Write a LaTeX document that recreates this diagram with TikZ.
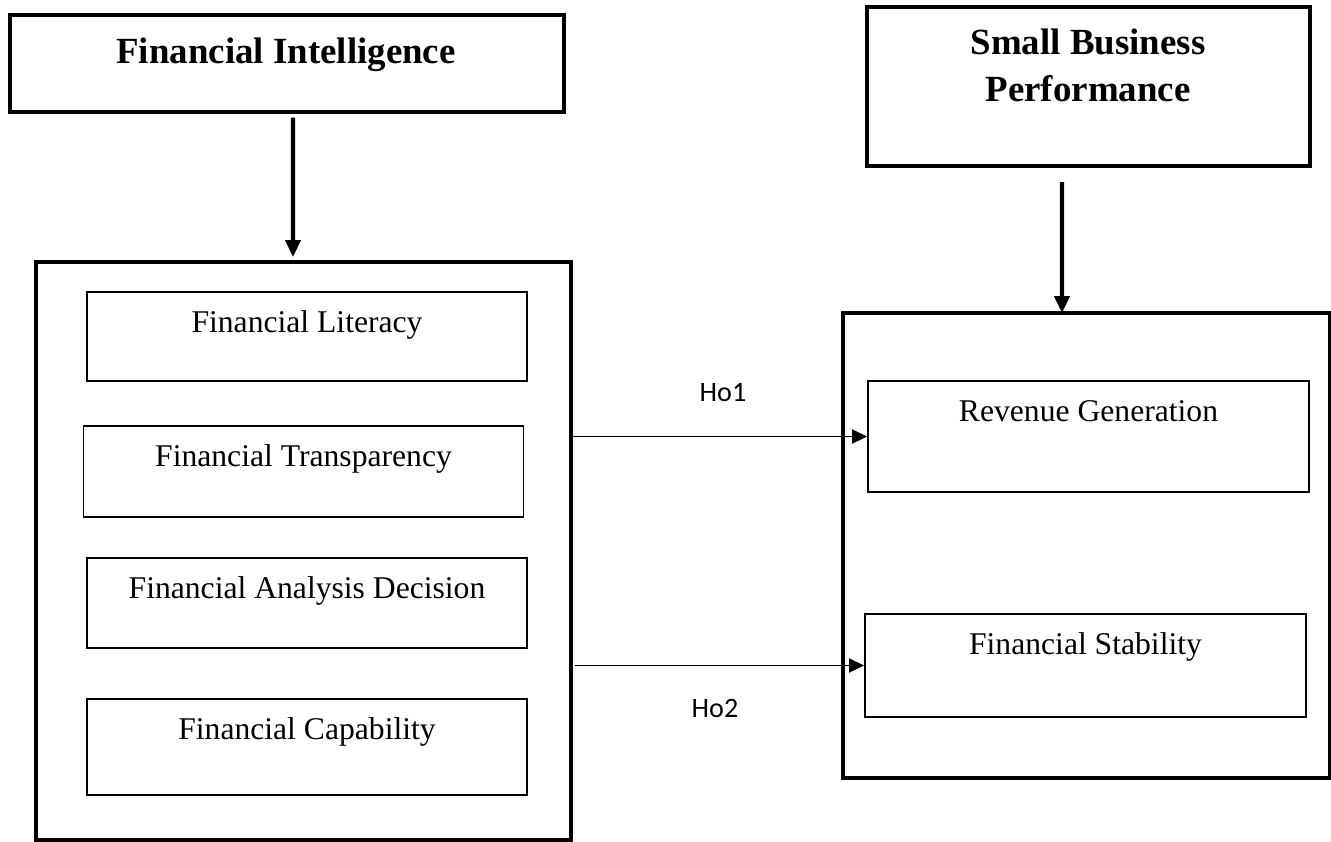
\documentclass[tikz,border=0pt]{standalone}
\usepackage{fontspec}
\setmainfont{Liberation Serif}
\newfontfamily\hofont{Carlito}
\usetikzlibrary{arrows.meta}

\begin{document}
\begin{tikzpicture}[
  titlebox/.style={draw, line width=1.9pt, inner sep=0pt},
  groupbox/.style={draw, line width=2.2pt, inner sep=0pt},
  itembox/.style={draw, line width=1.1pt, inner sep=0pt, minimum width=8.8cm},
  titletext/.style={font=\fontsize{21}{26.6}\selectfont\bfseries, align=center, inner sep=0pt},
  itemtext/.style={font=\fontsize{18}{21}\selectfont, anchor=base, inner sep=0pt},
  downarrow/.style={line width=2.3pt, -{Triangle[length=0.34cm,width=0.3cm]}},
  hyparrow/.style={line width=1.1pt, -{Triangle[length=0.3cm,width=0.28cm]}},
  hylabel/.style={font=\hofont\fontsize{16}{19}\selectfont}
]
\clip (0,0) rectangle (26.62,-16.82);

\node[titlebox, minimum width=11.08cm, minimum height=1.94cm] (fi) at (5.74,-1.27) {};
\node[titletext, anchor=base] (fitext) at (5.72,-1.26) {Financial Intelligence};

\node[titlebox, minimum width=8.86cm, minimum height=3.18cm] (sbp) at (21.77,-1.73) {};
\node[titletext, anchor=north] (sbptext) at (21.76,-0.58) {Small Business\\Performance};

\node[groupbox, minimum width=10.7cm, minimum height=11.56cm] (lbox) at (6.07,-11.02) {};
\node[groupbox, minimum width=9.74cm, minimum height=9.3cm] (rbox) at (21.73,-10.91) {};

% left side
\node[itembox, minimum height=1.78cm] (lit) at (6.14,-6.73) {};
\node[itembox, minimum height=1.82cm] (tra) at (6.07,-9.43) {};
\node[itembox, minimum height=1.8cm] (ana) at (6.14,-12.06) {};
\node[itembox, minimum height=1.92cm] (cap) at (6.14,-14.94) {};
\node[itemtext] (littext) at ([yshift=-0.82cm]lit.north) {Financial Literacy};
\node[itemtext] (tratext) at ([yshift=-0.82cm]tra.north) {Financial Transparency};
\node[itemtext] (anatext) at ([yshift=-0.82cm]ana.north) {Financial Analysis Decision};
\node[itemtext] (captext) at ([yshift=-0.82cm]cap.north) {Financial Capability};

% right side
\node[itembox, minimum height=2.22cm, minimum width=8.82cm] (rev) at (21.77,-8.73) {};
\node[itembox, minimum height=2.06cm, minimum width=8.82cm] (sta) at (21.71,-13.31) {};
\node[itemtext] (revtext) at ([yshift=-0.82cm]rev.north) {Revenue Generation};
\node[itemtext] (statext) at ([yshift=-0.82cm]sta.north) {Financial Stability};

\draw[downarrow] ([xshift=0.12cm,yshift=-0.08cm]fi.south) -- ([xshift=-0.21cm,yshift=0.06cm]lbox.north);
\draw[downarrow] ([xshift=-0.53cm,yshift=-0.29cm]sbp.south) -- ([xshift=-0.49cm,yshift=-0.04cm]rbox.north);

\draw[hyparrow] (rev.west -| lbox.east) -- (rev.west);
\draw[hyparrow] ([xshift=0.05cm]sta.west -| lbox.east) -- (sta.west);

\node[hylabel] (ho1) at (14.46,-7.86) {Ho1};
\node[hylabel] (ho2) at (14.3,-14.16) {Ho2};
\end{tikzpicture}
\end{document}
